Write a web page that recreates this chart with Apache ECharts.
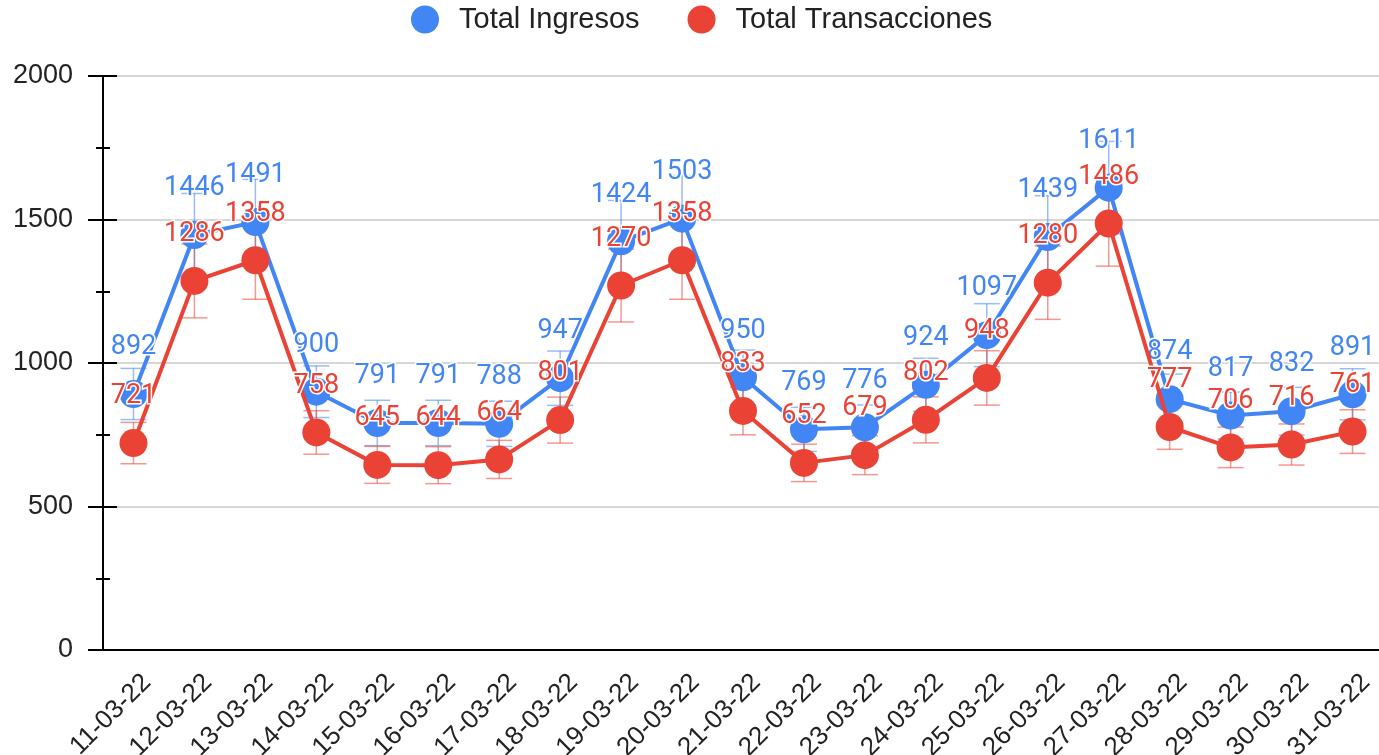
<!DOCTYPE html>
<html>
<head>
<meta charset="utf-8">
<script src="https://cdn.jsdelivr.net/npm/echarts@6/dist/echarts.min.js"></script>
<style>
  html, body { margin: 0; padding: 0; background: #fff; overflow: hidden; }
  #chart { width: 1379px; height: 755px; }
</style>
</head>
<body>
<div id="chart"></div>
<script>
const dates = ['11-03-22', '12-03-22', '13-03-22', '14-03-22', '15-03-22', '16-03-22', '17-03-22',
  '18-03-22', '19-03-22', '20-03-22', '21-03-22', '22-03-22', '23-03-22', '24-03-22', '25-03-22',
  '26-03-22', '27-03-22', '28-03-22', '29-03-22', '30-03-22', '31-03-22']
const ingresos = [892, 1446, 1491, 900, 791, 791, 788, 947, 1424, 1503, 950, 769, 776, 924, 1097, 1439, 1611, 874, 817, 832, 891]
const transacciones = [721, 1286, 1358, 758, 645, 644, 664, 801, 1270, 1358, 833, 652, 679, 802, 948, 1280, 1486, 777, 706, 716, 761]
// error bars are drawn at +/- 10% of each value
const errorPct = 0.1

const BLUE = '#4285F4'
const RED = '#EA4335'

const errorData = (vals) => vals.map((v, i) => [i, v * (1 - errorPct), v * (1 + errorPct)])

const errorSeries = (name, vals, color) => ({
  name: name,
  type: 'custom',
  z: 1,
  silent: true,
  itemStyle: { color: color },
  data: errorData(vals),
  renderItem: (params, api) => {
    const x = api.value(0)
    const lo = api.coord([x, api.value(1)])
    const hi = api.coord([x, api.value(2)])
    const half = 13
    const style = { stroke: color, lineWidth: 1.5, opacity: 0.55 }
    return {
      type: 'group',
      children: [
        { type: 'line', shape: { x1: lo[0], y1: lo[1], x2: hi[0], y2: hi[1] }, style },
        { type: 'line', shape: { x1: lo[0] - half, y1: lo[1], x2: lo[0] + half, y2: lo[1] }, style },
        { type: 'line', shape: { x1: hi[0] - half, y1: hi[1], x2: hi[0] + half, y2: hi[1] }, style },
      ],
    }
  },
})

const lineSeries = (name, vals, color, z) => ({
  name: name,
  type: 'line',
  data: vals,
  z: z,
  symbol: 'circle',
  symbolSize: 28,
  itemStyle: { color: color },
  lineStyle: { color: color, width: 4 },
  label: {
    show: true,
    position: 'top',
    distance: 19,
    color: color,
    fontSize: 27,
    fontFamily: 'Roboto',
    textBorderColor: '#fff',
    textBorderWidth: 3,
  },
  labelLayout: { hideOverlap: false },
})

const chart = echarts.init(document.getElementById('chart'))

const yBase = {
  type: 'value',
  min: 0,
  max: 2000,
  interval: 500,
  position: 'left',
  axisLine: { show: true, lineStyle: { color: '#000', width: 2 } },
}

chart.setOption({
  animation: false,
  textStyle: { fontFamily: 'Liberation Sans' },
  legend: {
    top: 0,
    left: 406,
    icon: 'circle',
    itemWidth: 28,
    itemHeight: 28,
    itemGap: 48,
    data: ['Total Ingresos', 'Total Transacciones'],
    textStyle: { fontSize: 29, color: '#222', fontFamily: 'Liberation Sans', padding: [0, 0, 0, 15] },
  },
  grid: { left: 103, right: -4, top: 76, bottom: 105, containLabel: false, outerBoundsMode: 'none' },
  xAxis: {
    type: 'category',
    data: dates,
    boundaryGap: true,
    axisLine: { lineStyle: { color: '#000', width: 2 } },
    axisTick: { show: false },
    axisLabel: {
      rotate: 45,
      fontSize: 26,
      color: '#222',
      margin: 5,
      interval: 0,
      verticalAlign: 'top',
      padding: [13, 7, 0, 0],
      fontFamily: 'Liberation Sans',
    },
  },
  yAxis: [
    Object.assign({}, yBase, {
      axisTick: { show: true, length: 15, lineStyle: { color: '#000', width: 2 } },
      minorTick: { show: true, splitNumber: 2, length: 7, lineStyle: { color: '#000', width: 2 } },
      axisLabel: { fontSize: 27, color: '#222', margin: 30, formatter: (v) => String(v), fontFamily: 'Liberation Sans' },
      splitLine: { show: true, lineStyle: { color: '#c8c8c8', width: 1.5 } },
    }),
    Object.assign({}, yBase, {
      axisTick: { show: true, inside: true, length: 14, lineStyle: { color: '#000', width: 2 } },
      minorTick: { show: true, splitNumber: 2, length: 7, lineStyle: { color: '#000', width: 2 } },
      axisLabel: { show: false },
      splitLine: { show: false },
    }),
  ],
  series: [
    errorSeries('Total Ingresos', ingresos, BLUE),
    errorSeries('Total Transacciones', transacciones, RED),
    lineSeries('Total Ingresos', ingresos, BLUE, 2),
    lineSeries('Total Transacciones', transacciones, RED, 3),
  ],
})
</script>
</body>
</html>
